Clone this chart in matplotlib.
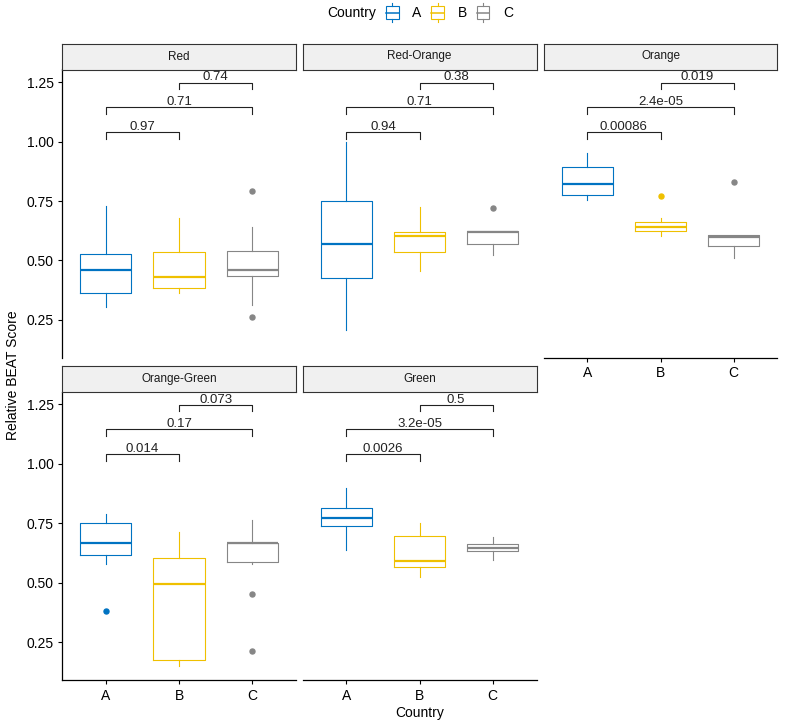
import matplotlib
matplotlib.use("Agg")
import matplotlib.pyplot as plt
from matplotlib.patches import Rectangle
from matplotlib.lines import Line2D
from matplotlib.legend_handler import HandlerBase

plt.rcParams['font.family'] = ['Liberation Sans', 'DejaVu Sans']

panels = ["Red", "Red-Orange", "Orange", "Orange-Green", "Green"]
countries = ["A", "B", "C"]
colors = ["#0073C2", "#EFC000", "#868686"]

# box stats per panel, for countries A, B, C
whislo = [[0.304, 0.364, 0.314], [0.206, 0.454, 0.524], [0.753, 0.603, 0.512],
          [0.578, 0.149, 0.577], [0.637, 0.524, 0.594]]
q1 = [[0.364, 0.384, 0.436], [0.426, 0.536, 0.569], [0.774, 0.623, 0.559],
      [0.618, 0.177, 0.586], [0.737, 0.564, 0.632]]
med = [[0.458, 0.430, 0.458], [0.568, 0.602, 0.618], [0.823, 0.641, 0.599],
       [0.667, 0.494, 0.665], [0.771, 0.592, 0.646]]
q3 = [[0.529, 0.534, 0.540], [0.750, 0.620, 0.622], [0.891, 0.662, 0.609],
      [0.751, 0.602, 0.665], [0.812, 0.698, 0.662]]
whishi = [[0.729, 0.680, 0.641], [0.999, 0.725, 0.622], [0.950, 0.680, 0.609],
          [0.789, 0.714, 0.763], [0.900, 0.753, 0.693]]
fliers = [[[], [], [0.791, 0.262]], [[], [], [0.719]], [[], [0.771], [0.830]],
          [[0.380], [], [0.452, 0.213]], [[], [], []]]

# p-values of pairwise comparisons
p_ab = ["0.97", "0.94", "0.00086", "0.014", "0.0026"]
p_ac = ["0.71", "0.71", "2.4e-05", "0.17", "3.2e-05"]
p_bc = ["0.74", "0.38", "0.019", "0.073", "0.5"]
bracket_y = [1.04, 1.145, 1.248]


class BoxHandler(HandlerBase):
    def create_artists(self, legend, orig_handle, xdescent, ydescent, width, height, fontsize, trans):
        col = orig_handle.get_edgecolor()
        x0, y0 = -xdescent, -ydescent
        box = Rectangle((x0, y0 + 0.18 * height), width, 0.64 * height, facecolor='white',
                        edgecolor=col, lw=0.8, transform=trans)
        mid = Line2D([x0, x0 + width], [y0 + 0.5 * height] * 2, color=col, lw=1.1, transform=trans)
        top = Line2D([x0 + width / 2] * 2, [y0 + 0.82 * height, y0 + height], color=col, lw=0.8, transform=trans)
        bot = Line2D([x0 + width / 2] * 2, [y0, y0 + 0.18 * height], color=col, lw=0.8, transform=trans)
        return [box, mid, top, bot]


W, H = 785, 725
fig = plt.figure(figsize=(W / 100, H / 100), dpi=100)

col_left = [62, 302.5, 543.5]
row_top = [69.5, 391.7]
pw, ph = 234, 288.5
strip_h = 26

for i, name in enumerate(panels):
    r, c = divmod(i, 3)
    ax = fig.add_axes([col_left[c] / W, 1 - (row_top[r] + ph) / H, pw / W, ph / H])
    stats = []
    for j in range(3):
        stats.append(dict(label=countries[j], whislo=whislo[i][j], q1=q1[i][j], med=med[i][j],
                          q3=q3[i][j], whishi=whishi[i][j], fliers=fliers[i][j]))
    bp = ax.bxp(stats, positions=[1, 2, 3], widths=0.7, showcaps=False)
    for j in range(3):
        bp['boxes'][j].set(color=colors[j], lw=0.8)
        bp['medians'][j].set(color=colors[j], lw=1.6)
        bp['whiskers'][2 * j].set(color=colors[j], lw=0.8)
        bp['whiskers'][2 * j + 1].set(color=colors[j], lw=0.8)
        bp['fliers'][j].set(marker='o', markerfacecolor=colors[j], markeredgecolor=colors[j], markersize=3.6)

    # comparison brackets
    tip = 0.028
    for a, b, y, lab in [(1, 2, bracket_y[0], p_ab[i]), (1, 3, bracket_y[1], p_ac[i]), (2, 3, bracket_y[2], p_bc[i])]:
        ax.plot([a, a, b, b], [y - tip, y, y, y - tip], color='#222222', lw=0.8, clip_on=False)
        ax.annotate(lab, xy=((a + b) / 2, y), xytext=(0, 1.5), textcoords='offset points',
                    ha='center', va='baseline', fontsize=9.5, color='#222222')

    ax.set_xlim(0.4, 3.6)
    ax.set_ylim(0.09, 1.303)
    ax.set_yticks([0.25, 0.5, 0.75, 1.0, 1.25])
    ax.set_yticklabels(["0.25", "0.50", "0.75", "1.00", "1.25"])
    ax.set_xticks([1, 2, 3])
    ax.set_xticklabels(countries)
    ax.spines['top'].set_visible(False)
    ax.spines['right'].set_visible(False)
    for s in ['left', 'bottom']:
        ax.spines[s].set_linewidth(0.9)
        ax.spines[s].set_color('black')
    ax.tick_params(length=3, width=0.8, pad=3, labelsize=10, colors='black')

    if c != 0:
        ax.spines['left'].set_visible(False)
        ax.tick_params(left=False, labelleft=False)
    if r == 0 and c != 2:
        ax.spines['bottom'].set_visible(False)
        ax.tick_params(bottom=False, labelbottom=False)

    # facet strip
    sax = fig.add_axes([col_left[c] / W, 1 - row_top[r] / H, pw / W, strip_h / H])
    sax.set_facecolor('#F0F0F0')
    sax.set_xticks([])
    sax.set_yticks([])
    for s in sax.spines.values():
        s.set_linewidth(0.8)
        s.set_color('#333333')
    sax.text(0.5, 0.5, name, ha='center', va='center', fontsize=8.5, color='#1a1a1a', transform=sax.transAxes)

fig.text(13 / W, 1 - 375 / H, "Relative BEAT Score", rotation=90, ha='center', va='center', fontsize=10)
fig.text(420 / W, 1 - 713 / H, "Country", ha='center', va='center', fontsize=10)

# legend on top
fig.text(327 / W, 1 - 12.5 / H, "Country", ha='left', va='center', fontsize=10)
handles = [Rectangle((0, 0), 1, 1, edgecolor=col, facecolor='white') for col in colors]
fig.legend(handles, countries, handler_map={Rectangle: BoxHandler()}, ncol=3,
           loc='center left', bbox_to_anchor=(386 / W, 1 - 12.5 / H), frameon=False,
           borderpad=0, borderaxespad=0, handlelength=0.9, handleheight=1.8,
           handletextpad=1.0, columnspacing=0.7, fontsize=10)

fig.savefig("out.png", dpi=100)
